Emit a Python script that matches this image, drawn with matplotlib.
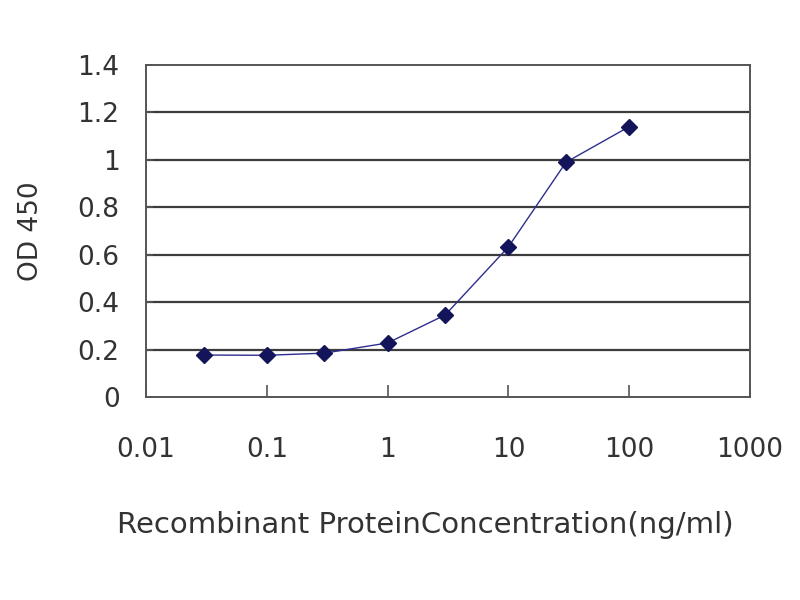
import matplotlib
matplotlib.use("Agg")
from matplotlib import pyplot as plt
from matplotlib.ticker import FixedLocator, FixedFormatter, NullLocator


concentration = [0.03, 0.1, 0.3, 1, 3, 10, 30, 100]
od450 = [0.177, 0.176, 0.185, 0.228, 0.346, 0.633, 0.99, 1.14]

x_ticks = [0.01, 0.1, 1, 10, 100, 1000]
x_tick_labels = ['0.01', '0.1', '1', '10', '100', '1000']
y_ticks = [0, 0.2, 0.4, 0.6, 0.8, 1.0, 1.2, 1.4]
y_tick_labels = ['0', '0.2', '0.4', '0.6', '0.8', '1', '1.2', '1.4']

TEXT_COLOR = '#333333'
GRID_COLOR = '#3c3c3c'

fig = plt.figure(figsize=(8, 6), dpi=100)
ax = fig.add_axes([0.1825, 0.3383, 0.755, 0.5534])

ax.set_xscale('log')
ax.set_xlim(0.01, 1000)
ax.set_ylim(0, 1.4)

for y in y_ticks[1:-1]:
    ax.axhline(y, color=GRID_COLOR, linewidth=1.6, zorder=1)

ax.plot(concentration, od450, color='#2e2e90', linewidth=1.0, zorder=2)
ax.plot(concentration, od450, linestyle='none', marker='D', markersize=8,
        color='#14145a', zorder=3)

ax.xaxis.set_major_locator(FixedLocator(x_ticks))
ax.xaxis.set_major_formatter(FixedFormatter(x_tick_labels))
ax.xaxis.set_minor_locator(NullLocator())
ax.yaxis.set_major_locator(FixedLocator(y_ticks))
ax.yaxis.set_major_formatter(FixedFormatter(y_tick_labels))

ax.tick_params(axis='x', direction='in', length=9, width=1.2, color='#555555',
               labelsize=19, labelcolor=TEXT_COLOR, pad=29)
ax.tick_params(axis='y', direction='in', length=5, width=1.2, color='#555555',
               labelsize=19, labelcolor=TEXT_COLOR, pad=19)

for spine in ax.spines.values():
    spine.set_color('#555555')
    spine.set_linewidth(1.4)

ax.set_ylabel('OD 450', fontsize=19, color=TEXT_COLOR, labelpad=24)
ax.set_xlabel('Recombinant ProteinConcentration(ng/ml)', fontsize=21,
              color=TEXT_COLOR, labelpad=34, x=0.462)

fig.savefig('out.png', dpi=100)
